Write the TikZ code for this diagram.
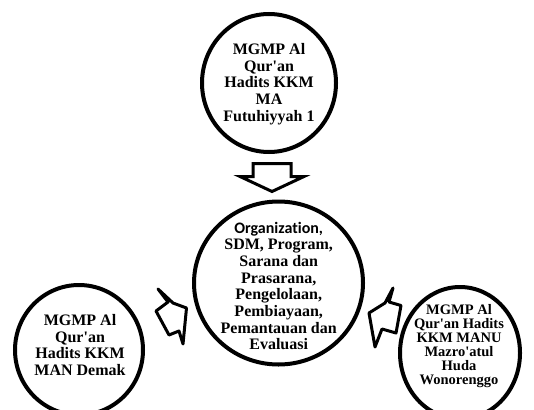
\documentclass[tikz,border=0pt]{standalone}
\usepackage{fontspec}
\setmainfont{Liberation Serif}
\newfontfamily\carlitofont[Ligatures={NoCommon,NoContextual}]{Carlito}
\newcommand{\apo}{\textquotesingle}
\usetikzlibrary{shapes.geometric}
\begin{document}
\begin{tikzpicture}[x=1pt,y=-1pt,
  ring/.style={draw=black, line width=4pt, ellipse, inner sep=0pt},
  txtbig/.style={align=center, inner sep=0pt, font=\bfseries\fontsize{16}{16.7}\selectfont},
  txtsmall/.style={align=center, inner sep=0pt, font=\bfseries\fontsize{14.5}{14.1}\selectfont},
  blockarrow/.style={draw=black, line width=3pt, line join=miter, fill=white}]
\useasboundingbox (0,0) rectangle (534,409);
% circles
\node[ring, minimum width=134pt, minimum height=138pt] (topc) at (269,83) {};
\node[ring, minimum width=169pt, minimum height=163pt] (midc) at (278.5,283) {};
\node[ring, minimum width=128pt, minimum height=130pt] (leftc) at (79,350) {};
\node[ring, minimum width=120pt, minimum height=132pt] (rightc) at (460,353) {};
% texts
\node[txtbig] (toptext) at (269,84) {MGMP Al\\Qur\apo an\\Hadits KKM\\MA\\Futuhiyyah 1};
\node[txtbig] (midtext) at (278.7,286) {{\carlitofont Organization,}\\SDM, Program,\\Sarana dan\\Prasarana,\\Pengelolaan,\\Pembiayaan,\\Pemantauan dan\\Evaluasi};
\node[txtbig] (lefttext) at (80,345) {MGMP Al\\Qur\apo an\\Hadits KKM\\MAN Demak};
\node[txtsmall] (righttext) at (459,346) {MGMP Al\\Qur\apo an Hadits\\KKM MANU\\Mazro\apo atul\\Huda\\Wonorenggo};
% block arrows
\draw[blockarrow] (253,163.5) -- (291,163.5) -- (291,176.5) -- (304,176.5) -- (272,191.5) -- (240,176.5) -- (253,176.5) -- cycle;
\draw[blockarrow, line join=round] (158,289) -- (173,303) -- (186.5,308) -- (183,344) -- (179,331) -- (169,335) -- (156,311) -- (168,302) -- cycle;
\draw[blockarrow, line join=round] (393,288) -- (389,302) -- (401,305.5) -- (396,333) -- (382,329) -- (375,347) -- (369,313) -- (385,303) -- cycle;
\end{tikzpicture}
\end{document}
